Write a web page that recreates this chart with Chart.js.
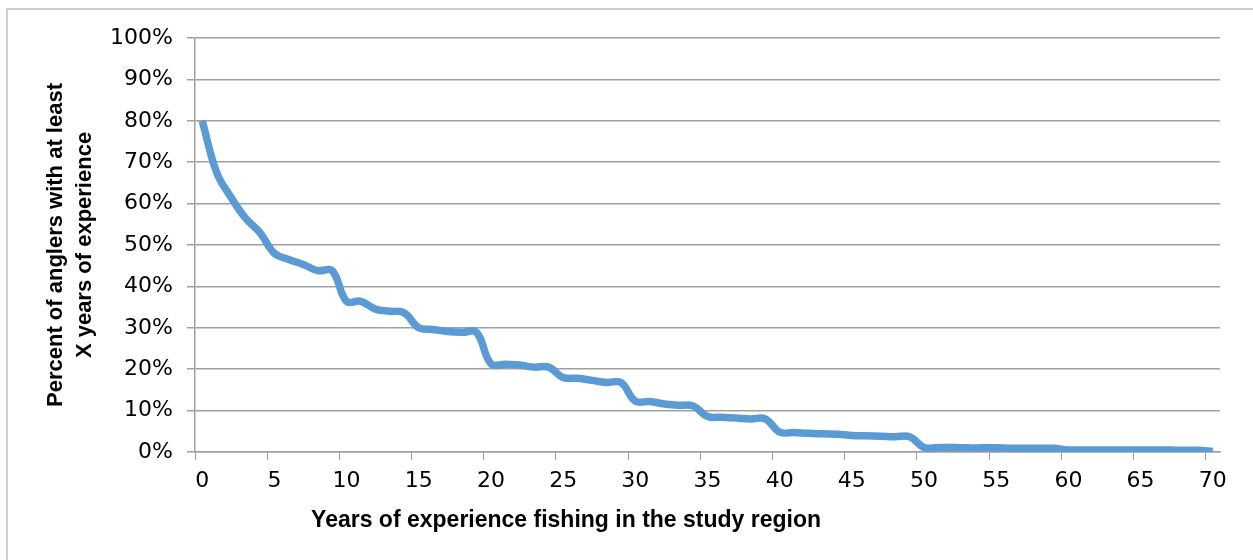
<!DOCTYPE html>
<html>
<head>
<meta charset="utf-8">
<script src="https://cdn.jsdelivr.net/npm/chart.js@4/dist/chart.umd.min.js"></script>
<style>
  html, body { margin: 0; padding: 0; background: #fff; }
  #wrap { position: relative; width: 1253px; height: 560px; overflow: hidden; }
  #frame { position: absolute; left: 6px; top: 8px; width: 1400px; height: 700px;
           border-left: 2px solid #cfcfcf; border-top: 2px solid #cfcfcf; }
  canvas { position: absolute; left: 0; top: 0; }
</style>
</head>
<body>
<div id="wrap">
  <div id="frame"></div>
  <canvas id="chart" width="1253" height="560"></canvas>
</div>
<script>
// years of experience (x categories)
const years = [];
for (let y = 0; y <= 70; y++) years.push(y);

// percent of anglers with at least X years of experience
const pct = [
  80, 67.5, 61.5, 56.5, 53, 48, 46.5, 45.3, 43.8, 43.8,
  36.4, 36.4, 34.5, 34, 33.6, 30, 29.6, 29.1, 28.9, 28.9,
  21.3, 21.2, 21, 20.5, 20.5, 18, 17.8, 17.3, 16.8, 16.8,
  12.3, 12.2, 11.6, 11.3, 11.1, 8.6, 8.4, 8.2, 8.0, 8.0,
  4.8, 4.7, 4.5, 4.4, 4.3, 4.0, 3.9, 3.8, 3.7, 3.7,
  1.1, 1.1, 1.1, 1.0, 1.0, 1.0, 0.9, 0.9, 0.9, 0.9,
  0.5, 0.5, 0.5, 0.5, 0.5, 0.5, 0.5, 0.5, 0.4, 0.4,
  0.1
];

const yTitle = ['Percent of anglers with at least', 'X years of experience'];
const xTitle = 'Years of experience fishing in the study region';

const gridGray = '#a0a0a0';
const tickFont = { family: 'DejaVu Sans', size: 22 };

// x axis title is not centred on the plot in the original, so draw it here
const xTitlePlugin = {
  id: 'xTitle',
  afterDraw(chart) {
    const ctx = chart.ctx;
    ctx.save();
    ctx.font = 'bold 23px "Liberation Sans"';
    ctx.fillStyle = '#000';
    ctx.textAlign = 'center';
    ctx.textBaseline = 'middle';
    const a = chart.chartArea;
    ctx.fillText(xTitle, a.left + (a.right - a.left) * 0.362, 521);
    ctx.restore();
  }
};

new Chart(document.getElementById('chart'), {
  type: 'line',
  data: {
    labels: years,
    datasets: [{
      data: pct,
      borderColor: '#5B9BD5',
      borderWidth: 7.5,
      pointRadius: 0,
      tension: 0.4,
      fill: false
    }]
  },
  options: {
    responsive: false,
    animation: false,
    layout: { padding: { top: 38, right: 33, left: 0, bottom: 0 } },
    plugins: { legend: { display: false }, tooltip: { enabled: false } },
    scales: {
      x: {
        type: 'category',
        offset: true,
        afterFit: s => { s.height = 108; },
        grid: {
          offset: true,
          drawOnChartArea: false,
          drawTicks: true,
          tickLength: 8,
          tickColor: c => (c.index % 5 === 0 ? gridGray : 'transparent')
        },
        border: { display: true, color: gridGray, width: 1.5 },
        ticks: {
          autoSkip: false,
          maxRotation: 0,
          padding: 8,
          color: '#000',
          font: tickFont,
          callback: (v, i) => (i % 5 === 0 ? String(years[i]) : '')
        }
      },
      y: {
        min: 0,
        max: 100,
        afterFit: s => { s.width = 195; },
        grid: { color: gridGray, lineWidth: 1.5, tickLength: 8 },
        border: { display: true, color: gridGray, width: 1.5 },
        ticks: {
          stepSize: 10,
          padding: 14,
          color: '#000',
          font: tickFont,
          callback: v => v + '%'
        },
        title: {
          display: true,
          text: yTitle,
          color: '#000',
          font: { family: 'Liberation Sans', size: 22, weight: 'bold', lineHeight: 1.3 },
          padding: { top: 42, bottom: 0 }
        }
      }
    }
  },
  plugins: [xTitlePlugin]
});
</script>
</body>
</html>
